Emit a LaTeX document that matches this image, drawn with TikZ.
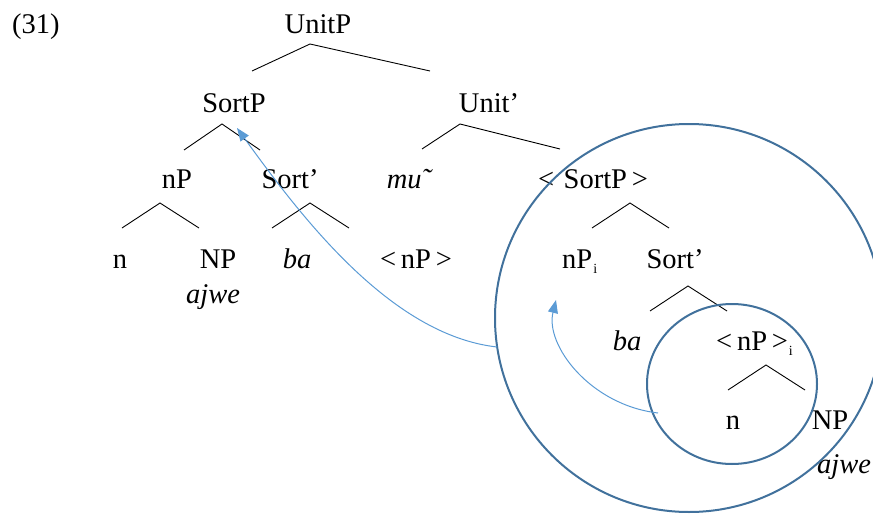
\documentclass[tikz,border=0pt]{standalone}
\usepackage{fontspec}
\setmainfont{Liberation Serif}
\usetikzlibrary{arrows.meta}
\definecolor{circblue}{RGB}{65,113,156}
\definecolor{arrblue}{RGB}{91,155,213}
\newcommand{\myidx}{\hspace{1pt}\raisebox{-5pt}{\fontsize{14}{14}\selectfont i}}
\begin{document}
\begin{tikzpicture}[x=1pt,y=-1pt,
  lbl/.style={font=\fontsize{28.5}{30}\selectfont, inner sep=0pt, anchor=base},
  lblw/.style={lbl, anchor=base west},
  branch/.style={line width=0.9pt},
  ring/.style={draw=circblue, line width=2pt},
  move/.style={draw=arrblue, line width=1pt, -{Triangle[length=13pt,width=10pt]}}]
\useasboundingbox (0,0) rectangle (873,514);
\clip (0,0) rectangle (873,514);
% labels
\node[lblw] (ex) at (12,33) {(31)};
\node[lbl] (unitp) at (318,33) {UnitP};
\node[lbl] (sortp) at (234,112) {SortP};
\node[lbl] (unitbar) at (489,112) {Unit’};
\node[lbl] (np1) at (177,188) {nP};
\node[lbl] (sortbar1) at (290,188) {Sort’};
\node[lbl] (mu) at (409,188) {\itshape mu˜};
\node[lbl] (sortpcopy) at (593,188) {<\,\,SortP\,>};
\node[lbl] (n1) at (120,268) {n};
\node[lbl] (NP1) at (218,268) {NP};
\node[lbl] (ajwe1) at (213,303) {\itshape ajwe};
\node[lbl] (ba1) at (297,268) {\itshape ba};
\node[lbl] (npcopy) at (416,268) {<\,nP\,>};
\node[lblw] (npi) at (562,268) {nP\myidx};
\node[lbl] (sortbar2) at (675,268) {Sort’};
\node[lbl] (ba2) at (627,350) {\itshape ba};
\node[lblw] (npcopyi) at (716,350) {<\,nP\,>\myidx};
\node[lbl] (n2) at (733,429) {n};
\node[lbl] (NP2) at (830,429) {NP};
\node[lbl] (ajwe2) at (844,473) {\itshape ajwe};
% branch points
\coordinate (a1) at (310,44);  \coordinate (a1l) at (252,71);  \coordinate (a1r) at (430,71);
\coordinate (a2) at (222,124); \coordinate (a2l) at (184,150); \coordinate (a2r) at (260,150);
\coordinate (a3) at (460,124); \coordinate (a3l) at (422,149); \coordinate (a3r) at (560,149);
\coordinate (a4) at (160,203); \coordinate (a4l) at (122,228); \coordinate (a4r) at (199,228);
\coordinate (a5) at (310,203); \coordinate (a5l) at (272,228); \coordinate (a5r) at (349,228);
\coordinate (a6) at (630,203); \coordinate (a6l) at (592,228); \coordinate (a6r) at (669,228);
\coordinate (a7) at (688,286); \coordinate (a7l) at (650,311); \coordinate (a7r) at (727,311);
\coordinate (a8) at (766,365); \coordinate (a8l) at (728,390); \coordinate (a8r) at (805,390);
\foreach \p in {a1,a2,a3,a4,a5,a6,a7,a8}
  \draw[branch] (\p l) -- (\p) -- (\p r);
% circles
\coordinate (bigc) at (689,318);
\coordinate (smallc) at (732,384);
\draw[ring] (bigc) circle [radius=194];
\draw[ring] (smallc) ellipse [x radius=85, y radius=80];
% movement arrows
\coordinate (m1s) at (497,347);
\coordinate (m1e) at (237,128);
\draw[move] (m1s) .. controls (390,335) and (300,215) .. (m1e);
\coordinate (m2s) at (658,413);
\coordinate (m2e) at (556,300);
\draw[move] (m2s) .. controls (590,405) and (545,345) .. (m2e);
\end{tikzpicture}
\end{document}
